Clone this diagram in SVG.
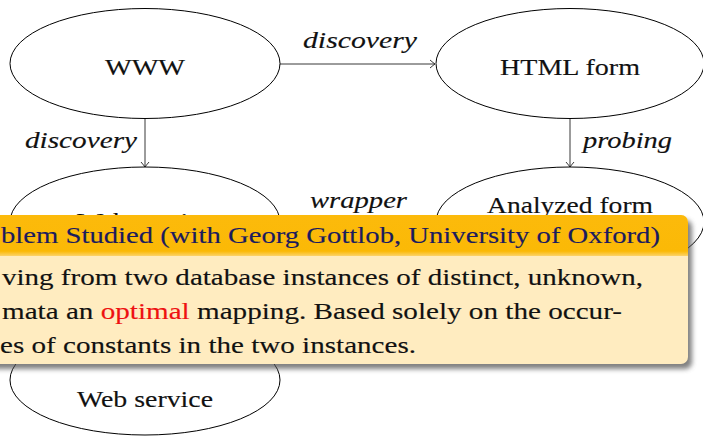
<svg xmlns="http://www.w3.org/2000/svg" width="703" height="436" viewBox="0 0 703 436">
  <defs>
    <style>
      .node { fill: #ffffff; stroke: #000000; stroke-width: 1; }
      .label { font-family: "Liberation Serif", "DejaVu Serif", serif; font-size: 24px; fill: #111111; stroke: #111111; stroke-width: 0.15; text-anchor: middle; }
      .edge { stroke: #222222; stroke-width: 0.9; fill: none; }
      .elabel { font-family: "Liberation Serif", "DejaVu Serif", serif; font-style: italic; font-size: 24px; fill: #111111; stroke: #111111; stroke-width: 0.15; }
      .title { font-family: "Liberation Serif", "DejaVu Serif", serif; font-size: 24px; fill: #1b1b5e; stroke: #1b1b5e; stroke-width: 0.15; }
      .body { font-family: "Liberation Serif", "DejaVu Serif", serif; font-size: 24px; fill: #111111; stroke: #111111; stroke-width: 0.15; }
      .hl { fill: #ee1111; stroke: #ee1111; }
    </style>
    <marker id="arrow" markerWidth="10" markerHeight="10" refX="0" refY="0" viewBox="-6 -5 7 10" orient="auto" markerUnits="userSpaceOnUse">
      <path d="M -5 -4 Q -1.5 -1 0 0 Q -1.5 1 -5 4" fill="none" stroke="#222222" stroke-width="0.9"/>
    </marker>
    <filter id="shadow" x="-10%" y="-10%" width="130%" height="140%">
      <feGaussianBlur stdDeviation="2.5"/>
    </filter>
    <linearGradient id="headFill" x1="0" y1="0" x2="0" y2="1">
      <stop offset="0" stop-color="#fcba0b"/>
      <stop offset="0.88" stop-color="#fbb906"/>
      <stop offset="1" stop-color="#fcd36a"/>
    </linearGradient>
    <clipPath id="blockClip">
      <rect x="-20" y="215" width="708" height="149" rx="7" ry="7"/>
    </clipPath>
  </defs>

  <!-- connectors -->
  <g id="connectors">
    <line class="edge" x1="280" y1="64" x2="435" y2="64" marker-end="url(#arrow)"/>
    <text class="elabel" x="303" y="48" textLength="114" lengthAdjust="spacingAndGlyphs">discovery</text>
    <line class="edge" x1="145" y1="118" x2="145" y2="167" marker-end="url(#arrow)"/>
    <text class="elabel" x="25" y="148" textLength="112" lengthAdjust="spacingAndGlyphs">discovery</text>
    <line class="edge" x1="570" y1="118" x2="570" y2="167" marker-end="url(#arrow)"/>
    <text class="elabel" x="583" y="148" textLength="89" lengthAdjust="spacingAndGlyphs">probing</text>
    <line class="edge" x1="436" y1="222" x2="281" y2="222" marker-end="url(#arrow)"/>
    <text class="elabel" x="310" y="208" textLength="97" lengthAdjust="spacingAndGlyphs">wrapper</text>
  </g>

  <!-- nodes -->
  <g id="node-www">
    <ellipse class="node" cx="145" cy="63.5" rx="135" ry="55"/>
    <text class="label" x="145" y="75" textLength="80" lengthAdjust="spacingAndGlyphs">WWW</text>
  </g>
  <g id="node-html-form">
    <ellipse class="node" cx="570" cy="63.5" rx="134" ry="55"/>
    <text class="label" x="570" y="75" textLength="140" lengthAdjust="spacingAndGlyphs">HTML form</text>
  </g>
  <g id="node-analyzed-form">
    <ellipse class="node" cx="570" cy="222" rx="134" ry="55"/>
    <text class="label" x="570" y="213" textLength="166" lengthAdjust="spacingAndGlyphs">Analyzed form</text>
  </g>
  <g id="node-web-service">
    <ellipse class="node" cx="145" cy="222" rx="135" ry="55"/>
    <text class="label" x="145" y="229" textLength="136" lengthAdjust="spacingAndGlyphs">Web service</text>
  </g>
  <g id="node-web-service-2">
    <ellipse class="node" cx="145" cy="380" rx="135" ry="55"/>
    <text class="label" x="145" y="407" textLength="136" lengthAdjust="spacingAndGlyphs">Web service</text>
  </g>

  <!-- overlay block -->
  <g id="block">
    <rect x="-16" y="220" width="708" height="149" rx="7" ry="7" fill="#555555" opacity="0.75" filter="url(#shadow)"/>
    <g clip-path="url(#blockClip)">
      <rect x="-20" y="215" width="708" height="149" fill="#ffecc0"/>
      <rect x="-20" y="215" width="708" height="41" fill="url(#headFill)"/>
    </g>
    <text class="title" x="1" y="243" textLength="659" lengthAdjust="spacingAndGlyphs">blem Studied (with Georg Gottlob, University of Oxford)</text>
    <text class="body" x="2" y="285" textLength="641" lengthAdjust="spacingAndGlyphs">ving from two database instances of distinct, unknown,</text>
    <text class="body" x="2" y="319" textLength="620" lengthAdjust="spacingAndGlyphs">mata an <tspan class="hl">optimal</tspan> mapping. Based solely on the occur-</text>
    <text class="body" x="0" y="353" textLength="416" lengthAdjust="spacingAndGlyphs">es of constants in the two instances.</text>
  </g>
</svg>
